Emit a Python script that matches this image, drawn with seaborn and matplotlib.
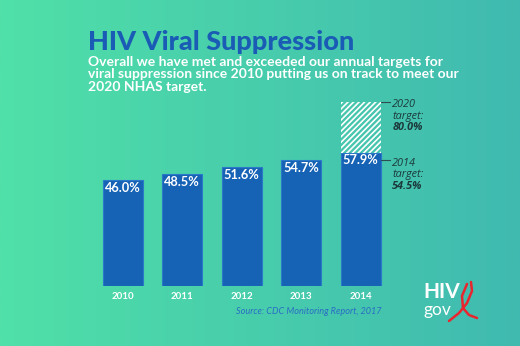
import numpy as np
import matplotlib
matplotlib.use("Agg")
import matplotlib.pyplot as plt
import seaborn as sns
import pandas as pd

# ---- data ----
years = ["2010", "2011", "2012", "2013", "2014"]
suppression = [46.0, 48.5, 51.6, 54.7, 57.9]
target_2020 = 80.0
target_2014 = 54.5
value_labels = ["46.0%", "48.5%", "51.6%", "54.7%", "57.9%"]

sns.set_theme(style="white")
plt.rcParams['font.family'] = ['Lato', 'DejaVu Sans']
plt.rcParams['hatch.linewidth'] = 1.2
plt.rcParams['hatch.color'] = 'white'

W, H = 520, 346
fig = plt.figure(figsize=(W / 100, H / 100), dpi=100)

# background gradient
bg = fig.add_axes([0, 0, 1, 1])
left = np.array([80, 224, 168]) / 255
right = np.array([64, 186, 176]) / 255
t = np.linspace(0, 1, 256)
grad = left[None, :] * (1 - t[:, None]) + right[None, :] * t[:, None]
img = np.tile(grad[None, :, :], (8, 1, 1))
bg.imshow(img, aspect='auto', extent=[0, W, H, 0])
bg.set_xlim(0, W)
bg.set_ylim(H, 0)
bg.axis('off')

# logo
bg.text(423, 292, "HIV", color='white', fontsize=15, fontweight='bold',
        ha='left', va='center', family=['Lato'])
bg.text(423, 310, "gov", color='white', fontsize=12.5, fontweight='normal',
        ha='left', va='center', family=['Lato'])
ax_x = [471, 472, 467, 459, 449]
ax_y = [282, 291, 303, 313, 321]
bg.plot(ax_x, ax_y, color='#e8262f', lw=1.8, solid_capstyle='round')
bx = [467, 462, 463, 469, 477]
by = [284, 296, 308, 315, 318]
bg.plot(bx, by, color='#e8262f', lw=1.8, solid_capstyle='round')

# title and subtitle
bg.text(88, 42, "HIV Viral Suppression", color='#1a5bb5', fontsize=19.5,
        fontweight='black', ha='left', va='center')
sub = ("Overall we have met and exceeded our annual targets for\n"
       "viral suppression since 2010 putting us on track to meet our\n"
       "2020 NHAS target.")
bg.text(88, 56, sub, color='white', fontsize=10, fontweight='bold',
        ha='left', va='top', linespacing=1.05)

# main bar axes
x0, x1 = 93, 390.5
y_base = 286
px_per_pct = 2.304
ytop = 100
ax = fig.add_axes([x0 / W, (H - y_base) / H, (x1 - x0) / W, ytop * px_per_pct / H])
ax.patch.set_alpha(0)

df = pd.DataFrame({"year": years, "value": suppression})
bar_color = '#1663b6'
sns.barplot(data=df, x="year", y="value", color=bar_color, width=0.672,
            saturation=1, edgecolor='#2a78c8', linewidth=0.8, ax=ax)

# hatched 2020 target portion
ax.bar(4, target_2020 - suppression[-1], bottom=suppression[-1], width=0.672,
       facecolor='none', edgecolor='white', hatch='//////', linewidth=0)

ax.set_xlim(-0.5, 4.5)
ax.set_ylim(0, ytop)
ax.set_xlabel("")
ax.set_ylabel("")
ax.set_yticks([])
for s in ax.spines.values():
    s.set_visible(False)
ax.tick_params(axis='x', length=0, pad=4, labelsize=7, colors='white')
for lab in ax.get_xticklabels():
    lab.set_fontweight('bold')

# value labels
for i, (v, lab) in enumerate(zip(suppression, value_labels)):
    ax.text(i, v - 3.4, lab, color='white', fontsize=9.2, fontweight='bold',
            ha='center', va='center')

# annotations
half = 0.336
lx = [4 + half, 4 + half + 0.17]
ax.plot(lx, [target_2020, target_2020], color='#2d4d50', lw=0.8)
ax.plot(lx, [target_2014, target_2014], color='#2d4d50', lw=0.8)
txt_col = '#1c3a3c'
tx = 4.53
fs = 7.8
afam = ['Open Sans', 'DejaVu Sans']
for yv, yr in [(target_2020, "2020"), (target_2014, "2014")]:
    ax.text(tx, yv - 2.5, yr, color=txt_col, fontsize=fs, style='italic',
            ha='left', va='baseline', family=afam)
    ax.text(tx, yv - 7.4, "target:", color=txt_col, fontsize=fs, style='italic',
            ha='left', va='baseline', family=afam)
    ax.text(tx, yv - 12.3, f"{yv:.1f}%", color=txt_col, fontsize=fs, style='italic',
            fontweight='bold', ha='left', va='baseline', family=afam)

# source
bg.text(382, 311, "Source: CDC Monitoring Report, 2017", color='#2a6cc4',
        fontsize=6.6, style='italic', ha='right', va='center')

fig.savefig("out.png", dpi=100)
